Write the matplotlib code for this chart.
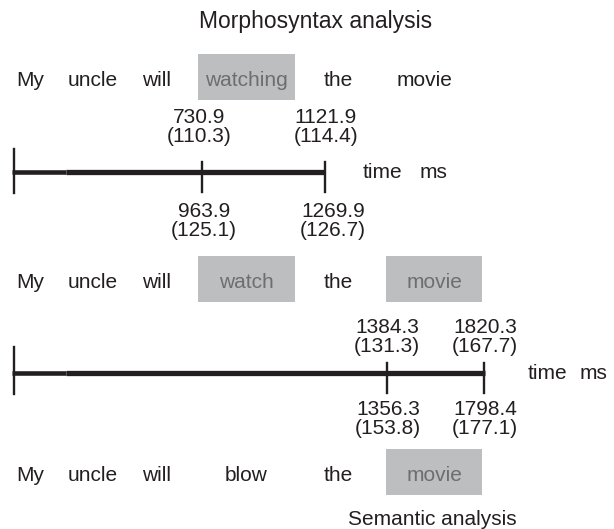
import matplotlib
matplotlib.use("Agg")
import matplotlib.pyplot as plt
from matplotlib.patches import Rectangle

# ---------------- data ----------------
title_top = "Morphosyntax analysis"
title_bottom = "Semantic analysis"
sentence_1 = ["My", "uncle", "will", "watching", "the", "movie"]
sentence_2 = ["My", "uncle", "will", "watch", "the", "movie"]
sentence_3 = ["My", "uncle", "will", "blow", "the", "movie"]
highlight_1 = [3]
highlight_2 = [3, 5]
highlight_3 = [5]

t1_top_mean = [730.9, 1121.9]
t1_top_sd = [110.3, 114.4]
t1_bot_mean = [963.9, 1269.9]
t1_bot_sd = [125.1, 126.7]
t2_top_mean = [1384.3, 1820.3]
t2_top_sd = [131.3, 167.7]
t2_bot_mean = [1356.3, 1798.4]
t2_bot_sd = [153.8, 177.1]
axis_label = ["time", "ms"]

# ---------------- layout (pixels) ----------------
W, H = 614, 529
TXT = "#231f20"
BOX = "#bcbec0"
BOXTXT = "#6d6e71"
FS = 15
FONT = ["Liberation Sans", "DejaVu Sans"]

word_x = [30, 93, 157, 246, 338, 434]
word_x_plain_last = 425
box_x = {3: (198, 295), 5: (386, 482)}
row_center = [77, 279, 472]
box_h = 46

fig = plt.figure(figsize=(W / 100, H / 100), dpi=100)
ax = fig.add_axes([0, 0, 1, 1])
ax.set_xlim(0, W)
ax.set_ylim(H, 0)
ax.axis("off")


def txt(x, y, s, color=TXT, size=FS, ha="center"):
    ax.text(x, y, s, color=color, fontsize=size, ha=ha, va="baseline",
            family=FONT)


# titles
txt(316, 28, title_top, size=16.5)
txt(432, 525, title_bottom, size=15)

# sentences
for r, (words, hl) in enumerate([(sentence_1, highlight_1),
                                  (sentence_2, highlight_2),
                                  (sentence_3, highlight_3)]):
    yc = row_center[r]
    for i, w in enumerate(words):
        if i in hl:
            x0, x1 = box_x[i]
            ax.add_patch(Rectangle((x0, yc - box_h / 2), x1 - x0, box_h,
                                   facecolor=BOX, edgecolor="none"))
            txt((x0 + x1) / 2, yc + 9, w, color=BOXTXT)
        else:
            x = word_x[i]
            if i == 5:
                x = word_x_plain_last
            txt(x, yc + 9, w)


def timeline(y, x_end, ticks, left_top, label_x):
    # slightly thinner start + thick main line
    ax.plot([12, 66], [y, y], color=TXT, lw=3.3, solid_capstyle="butt")
    ax.plot([66, x_end], [y, y], color=TXT, lw=3.8, solid_capstyle="butt")
    ax.plot([14, 14], [left_top, y + 21], color=TXT, lw=1.7)
    for tx in ticks:
        ax.plot([tx, tx], [y - 10, y + 20], color=TXT, lw=1.7)
    txt(label_x[0], y + 6, axis_label[0], ha="left")
    txt(label_x[1], y + 6, axis_label[1], ha="left")


def labels(xs, means, sds, y_base):
    for x, m, s in zip(xs, means, sds):
        txt(x, y_base, f"{m:.1f}")
        txt(x, y_base + 19, f"({s:.1f})")


# timeline 1
labels([199, 326], t1_top_mean, t1_top_sd, 123)
timeline(172, 325, [202, 325], 149, [363, 420])
labels([204, 333], t1_bot_mean, t1_bot_sd, 217)

# timeline 2
labels([387, 485], t2_top_mean, t2_top_sd, 333)
timeline(373, 485, [387, 484], 347, [528, 580])
labels([388, 485], t2_bot_mean, t2_bot_sd, 415)

fig.savefig("out.png", dpi=100)
